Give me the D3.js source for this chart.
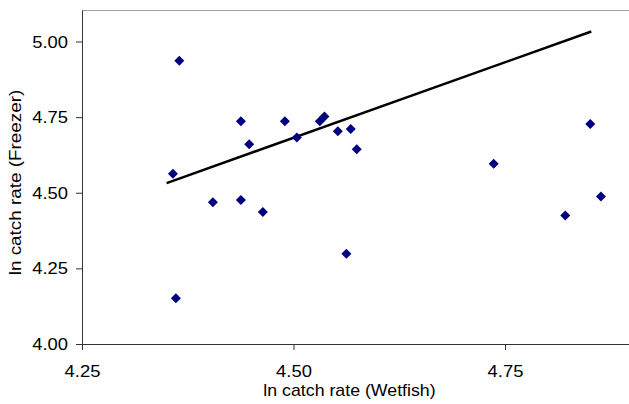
<!DOCTYPE html>
<html>
<head>
<meta charset="utf-8">
<script src="https://cdn.jsdelivr.net/npm/d3@7"></script>
<style>
  body { margin: 0; background: #fff; }
  text { font-family: "Liberation Sans", Arial, sans-serif; }
</style>
</head>
<body>
<div id="chart"></div>
<script>
// ln catch rate, wetfish (x) vs freezer (y)
var wetfish = [4.365, 4.3575, 4.361, 4.4047, 4.4378, 4.4378, 4.4476, 4.4638, 4.4898, 4.504,
               4.5311, 4.5366, 4.5524, 4.5677, 4.5748, 4.5625, 4.7366, 4.8212, 4.8508, 4.8634];
var freezer = [4.936, 4.563, 4.151, 4.469, 4.476, 4.736, 4.660, 4.436, 4.736, 4.683,
               4.736, 4.752, 4.703, 4.711, 4.644, 4.298, 4.596, 4.425, 4.727, 4.488];
// trend line end points
var lineX = [4.35, 4.852];
var lineY = [4.532, 5.033];

var xTicks = [4.25, 4.50, 4.75];
var yTicks = [4.00, 4.25, 4.50, 4.75, 5.00];

var svgWidth = 629;
var svgHeight = 404;

var svg = d3.select("#chart")
  .append("svg")
  .attr("width", svgWidth)
  .attr("height", svgHeight);

var x = d3.scaleLinear().domain([4.25, 4.9]).range([82, 82 + 0.65 * 846]);
var y = d3.scaleLinear().domain([4.0, 5.1]).range([344, 344 - 1.1 * 302.5]);

var plotTop = Math.round(y(5.104)) + 0.5;

// top border
svg.append("line")
  .attr("x1", 82).attr("x2", svgWidth)
  .attr("y1", plotTop).attr("y2", plotTop)
  .attr("stroke", "#a0a0a0")
  .attr("stroke-width", 1);

var bottomAxis = d3.axisBottom(x).tickValues(xTicks).tickFormat(d3.format(".2f")).tickSize(6).tickSizeOuter(0);
var leftAxis = d3.axisLeft(y).tickValues(yTicks).tickFormat(d3.format(".2f")).tickSize(6).tickSizeOuter(0);

var gx = svg.append("g")
  .attr("transform", "translate(0,344)")
  .call(bottomAxis);
gx.select(".domain").attr("stroke", "#333");
gx.selectAll(".tick line").attr("stroke", "#333");
gx.selectAll(".tick text")
  .attr("font-size", 16)
  .attr("font-family", "Liberation Sans, Arial, sans-serif")
  .attr("fill", "#000")
  .attr("y", 0)
  .attr("dy", 0)
  .attr("transform", "translate(0,33) scale(1.15,1)");

var gy = svg.append("g")
  .attr("transform", "translate(82,0)")
  .call(leftAxis);
gy.select(".domain").attr("stroke", "#333")
  .attr("d", "M0.5," + plotTop + "V344.5");
gy.selectAll(".tick line").attr("stroke", "#333");
gy.selectAll(".tick text")
  .attr("font-size", 16)
  .attr("font-family", "Liberation Sans, Arial, sans-serif")
  .attr("fill", "#000")
  .attr("x", 0)
  .attr("dy", "0.35em")
  .attr("transform", "translate(-14,0) scale(1.15,1)");

// trend line
svg.append("line")
  .attr("x1", x(lineX[0])).attr("y1", y(lineY[0]))
  .attr("x2", x(lineX[1])).attr("y2", y(lineY[1]))
  .attr("stroke", "#000")
  .attr("stroke-width", 2.5);

// points
svg.append("g")
  .selectAll("path")
  .data(wetfish)
  .enter()
  .append("path")
  .attr("transform", function(d, i) {
    return "translate(" + x(d) + "," + y(freezer[i]) + ")";
  })
  .attr("d", "M0,-5L5,0L0,5L-5,0Z")
  .attr("fill", "#000080");

// axis titles
svg.append("text")
  .attr("transform", "translate(349.5,396) scale(1.11,1)")
  .attr("text-anchor", "middle")
  .attr("font-size", 16)
  .text("ln catch rate (Wetfish)");

svg.append("text")
  .attr("transform", "translate(21,182.5) rotate(-90) scale(1.18,1)")
  .attr("text-anchor", "middle")
  .attr("font-size", 16)
  .text("ln catch rate (Freezer)");
</script>
</body>
</html>
